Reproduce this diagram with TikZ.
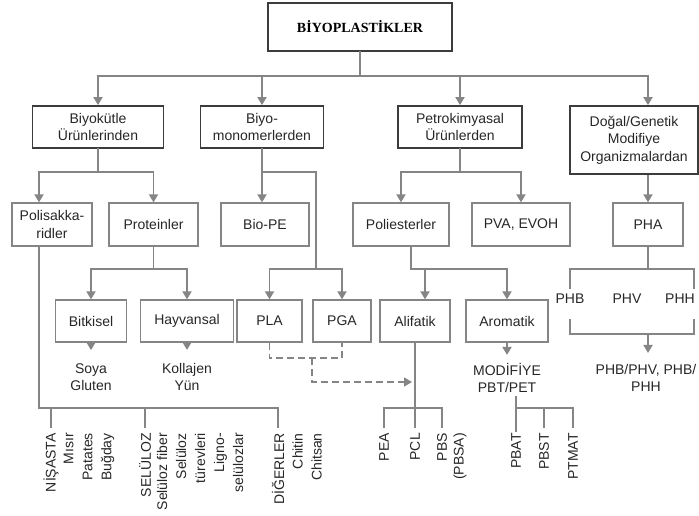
\documentclass[tikz,border=0pt]{standalone}
\usepackage{xcolor}
\usepackage{tikz}
\usetikzlibrary{arrows.meta}
\usepackage{fontspec}
\setmainfont{Liberation Serif}
\setsansfont{Liberation Sans}
\definecolor{biogray}{HTML}{858585}
\definecolor{biodark}{HTML}{3c3c3c}
\definecolor{biotext}{HTML}{262626}

\begin{document}
\begin{tikzpicture}[x=1pt,y=-1pt,
  txt/.style={font=\sffamily\fontsize{14}{17.5}\selectfont, text=biotext, align=center, inner sep=0pt},
  mainbox/.style={txt, draw=biodark, line width=1.8pt, minimum height=42pt},
  subbox/.style={txt, draw=biogray, line width=1.3pt, minimum height=43pt},
  vtxt/.style={txt, rotate=90, anchor=east, align=right, font=\sffamily\fontsize{14}{19}\selectfont},
  conn/.style={draw=biogray, line width=1.8pt, line cap=rect},
  arr/.style={conn, line cap=butt, -{Triangle[length=8pt,width=9pt]}},
  dconn/.style={draw=biogray, line width=1.5pt, dash pattern=on 7pt off 4pt},
]
  \useasboundingbox (0,0) rectangle (699,515);

  \coordinate (bus) at (0,76);
  \coordinate (jA) at (0,172);
  \coordinate (jB) at (0,269);
  \coordinate (jD) at (0,334);
  \coordinate (dj) at (0,358);
  \coordinate (dlow) at (0,382);
  \coordinate (jC) at (0,408);
  \coordinate (polisx) at (39,0);
  \coordinate (monox) at (316,0);
  \coordinate (dmid) at (312,0);
  \coordinate (polix) at (411,0);
  \coordinate (brR) at (694,0);

  \node[draw=biodark, line width=1.8pt, minimum width=184pt, minimum height=48pt, inner sep=0pt,
        font=\bfseries\fontsize{14}{17}\selectfont] (top) at (360,27) {BİYOPLASTİKLER};

  \node[mainbox, minimum width=131pt] (biyo) at (98,127) {Biyokütle\\Ürünlerinden};
  \node[mainbox, minimum width=123pt] (mono) at (262,127) {Biyo-\\monomerlerden};
  \node[mainbox, minimum width=124pt] (petro) at (460,127) {Petrokimyasal\\Ürünlerden};
  \node[mainbox, minimum width=128pt, minimum height=68pt] (dogal) at (634,140) {Doğal/Genetik\\Modifiye\\Organizmalardan};

  \node[subbox, minimum width=80pt] (polis) at (52,224.5) {Polisakka-\\ridler};
  \node[subbox, minimum width=89pt] (prot) at (153.5,224.5) {Proteinler};
  \node[subbox, minimum width=88pt] (biope) at (265,224.5) {Bio-PE};
  \node[subbox, minimum width=96pt] (poli) at (401,224.5) {Poliesterler};
  \node[subbox, minimum width=98pt] (pva) at (521,224.5) {PVA, EVOH};
  \node[subbox, minimum width=70pt] (pha) at (648,224.5) {PHA};

  \node[subbox, minimum width=71pt, minimum height=42pt] (bitk) at (91,321) {Bitkisel};
  \node[subbox, minimum width=93pt, minimum height=42pt] (hayv) at (187,321) {Hayvansal};
  \node[subbox, minimum width=65pt, minimum height=42pt] (pla) at (269.5,321) {PLA};
  \node[subbox, minimum width=58pt, minimum height=42pt] (pga) at (342,321) {PGA};
  \node[subbox, minimum width=70pt, minimum height=42pt] (alif) at (415,321) {Alifatik};
  \node[subbox, minimum width=82pt, minimum height=42pt] (arom) at (507,321) {Aromatik};

  \node[txt] (soya) at (91,377) {Soya\\Gluten};
  \node[txt] (koll) at (187,377) {Kollajen\\Yün};
  \node[txt] (modif) at (507,378) {MODİFİYE\\PBT/PET};
  \node[txt] (phb) at (570,299) {PHB};
  \node[txt] (phv) at (627,299) {PHV};
  \node[txt] (phh) at (680,299) {PHH};
  \node[txt] (phmix) at (646,378) {PHB/PHV, PHB/\\PHH};

  \node[vtxt] (nisasta) at (51,433) {NİŞASTA};
  \node[vtxt] (nisastal) at (89,433) {Mısır\\Patates\\Buğday};
  \node[vtxt] (selul) at (145,433) {SELÜLOZ};
  \node[vtxt] (selull) at (200,433) {Selüloz fiber\\Selüloz\\türevleri\\Ligno-\\selülozlar};
  \node[vtxt] (diger) at (278,433) {DİĞERLER};
  \node[vtxt] (digerl) at (307,433) {Chitin\\Chitsan};
  \node[vtxt] (pea) at (384,433) {PEA};
  \node[vtxt] (pcl) at (415,433) {PCL};
  \node[vtxt] (pbs) at (442,433) {PBS};
  \node[vtxt] (pbsa) at (460,433) {(PBSA)};
  \node[vtxt] (pbat) at (516,433) {PBAT};
  \node[vtxt] (pbst) at (544,433) {PBST};
  \node[vtxt] (ptmat) at (573,433) {PTMAT};

  \draw[conn] (top.south) -- (top.south |- bus);
  \draw[conn] (biyo.north |- bus) -- (pha.north |- bus);
  \draw[arr] (biyo.north |- bus) -- (biyo.north);
  \draw[arr] (mono.north |- bus) -- (mono.north);
  \draw[arr] (petro.north |- bus) -- (petro.north);
  \draw[arr] (pha.north |- bus) -- (pha.north |- dogal.north);

  \draw[conn] (biyo.south) -- (biyo.south |- jA);
  \draw[conn] (polisx |- jA) -- (prot.north |- jA);
  \draw[arr] (polisx |- jA) -- (polisx |- polis.north);
  \draw[arr] (prot.north |- jA) -- (prot.north);

  \draw[conn] (mono.south) -- (mono.south |- jA) -- (monox |- jA) -- (monox |- jB);
  \draw[arr] (mono.south |- jA) -- (mono.south |- biope.north);
  \draw[conn] (pla.north |- jB) -- (pga.north |- jB);
  \draw[arr] (pla.north |- jB) -- (pla.north);
  \draw[arr] (pga.north |- jB) -- (pga.north);

  \draw[conn] (petro.south) -- (petro.south |- jA);
  \draw[conn] (poli.north |- jA) -- (pva.north |- jA);
  \draw[arr] (poli.north |- jA) -- (poli.north);
  \draw[arr] (pva.north |- jA) -- (pva.north);
  \draw[arr] (pha.south |- dogal.south) -- (pha.north);

  \draw[conn] (prot.south) -- (prot.south |- jB);
  \draw[conn] (bitk.north |- jB) -- (hayv.north |- jB);
  \draw[arr] (bitk.north |- jB) -- (bitk.north);
  \draw[arr] (hayv.north |- jB) -- (hayv.north);
  \draw[arr, shorten >=13pt] (bitk.south) -- (soya.north);
  \draw[arr, shorten >=13pt] (hayv.south) -- (koll.north);

  \draw[conn] (polix |- poli.south) -- (polix |- jB) -- (arom.north |- jB);
  \draw[arr] ([xshift=10pt]alif.north |- jB) -- ([xshift=10pt]alif.north);
  \draw[arr] (arom.north |- jB) -- (arom.north);
  \draw[arr, shorten >=8pt] (arom.south) -- (modif.north);

  \draw[conn] (pha.south) -- (pha.south |- jB);
  \draw[conn, shorten <=6pt, shorten >=6pt] (phb.north) -- (phb.north |- jB) -- (brR |- jB) -- (brR |- phb.north);
  \draw[conn, shorten <=16pt, shorten >=16pt] (phb.south) -- (phb.south |- jD) -- (brR |- jD) -- (brR |- phb.south);
  \draw[arr, shorten >=11pt] (pha.south |- jD) -- (pha.south |- phmix.north);

  \draw[dconn] (pla.south) -- (pla.south |- dj) -- (pga.south |- dj) -- (pga.south);
  \draw[dconn, shorten >=3pt, -{Triangle[length=8pt,width=9pt]}] (dmid |- dj) -- (dmid |- dlow) -- (alif.south |- dlow);

  \draw[conn] (polisx |- polis.south) -- (polisx |- jC) -- (diger.east |- jC);
  \draw[conn, shorten >=6pt] (nisasta.east |- jC) -- (nisasta.east);
  \draw[conn, shorten >=6pt] (selul.east |- jC) -- (selul.east);
  \draw[conn, shorten >=6pt] (diger.east |- jC) -- (diger.east);

  \draw[conn, shorten >=6pt] (alif.south) -- (pcl.east);
  \draw[conn] (pea.east |- jC) -- (pbs.east |- jC);
  \draw[conn, shorten >=6pt] (pea.east |- jC) -- (pea.east);
  \draw[conn, shorten >=6pt] (pbs.east |- jC) -- (pbs.east);

  \draw[conn, shorten <=4pt, shorten >=2pt] (pbat.east |- modif.south) -- (pbat.east);
  \draw[conn] (pbat.east |- jC) -- (ptmat.east |- jC);
  \draw[conn, shorten >=6pt] (pbst.east |- jC) -- (pbst.east);
  \draw[conn, shorten >=6pt] (ptmat.east |- jC) -- (ptmat.east);
\end{tikzpicture}
\end{document}
